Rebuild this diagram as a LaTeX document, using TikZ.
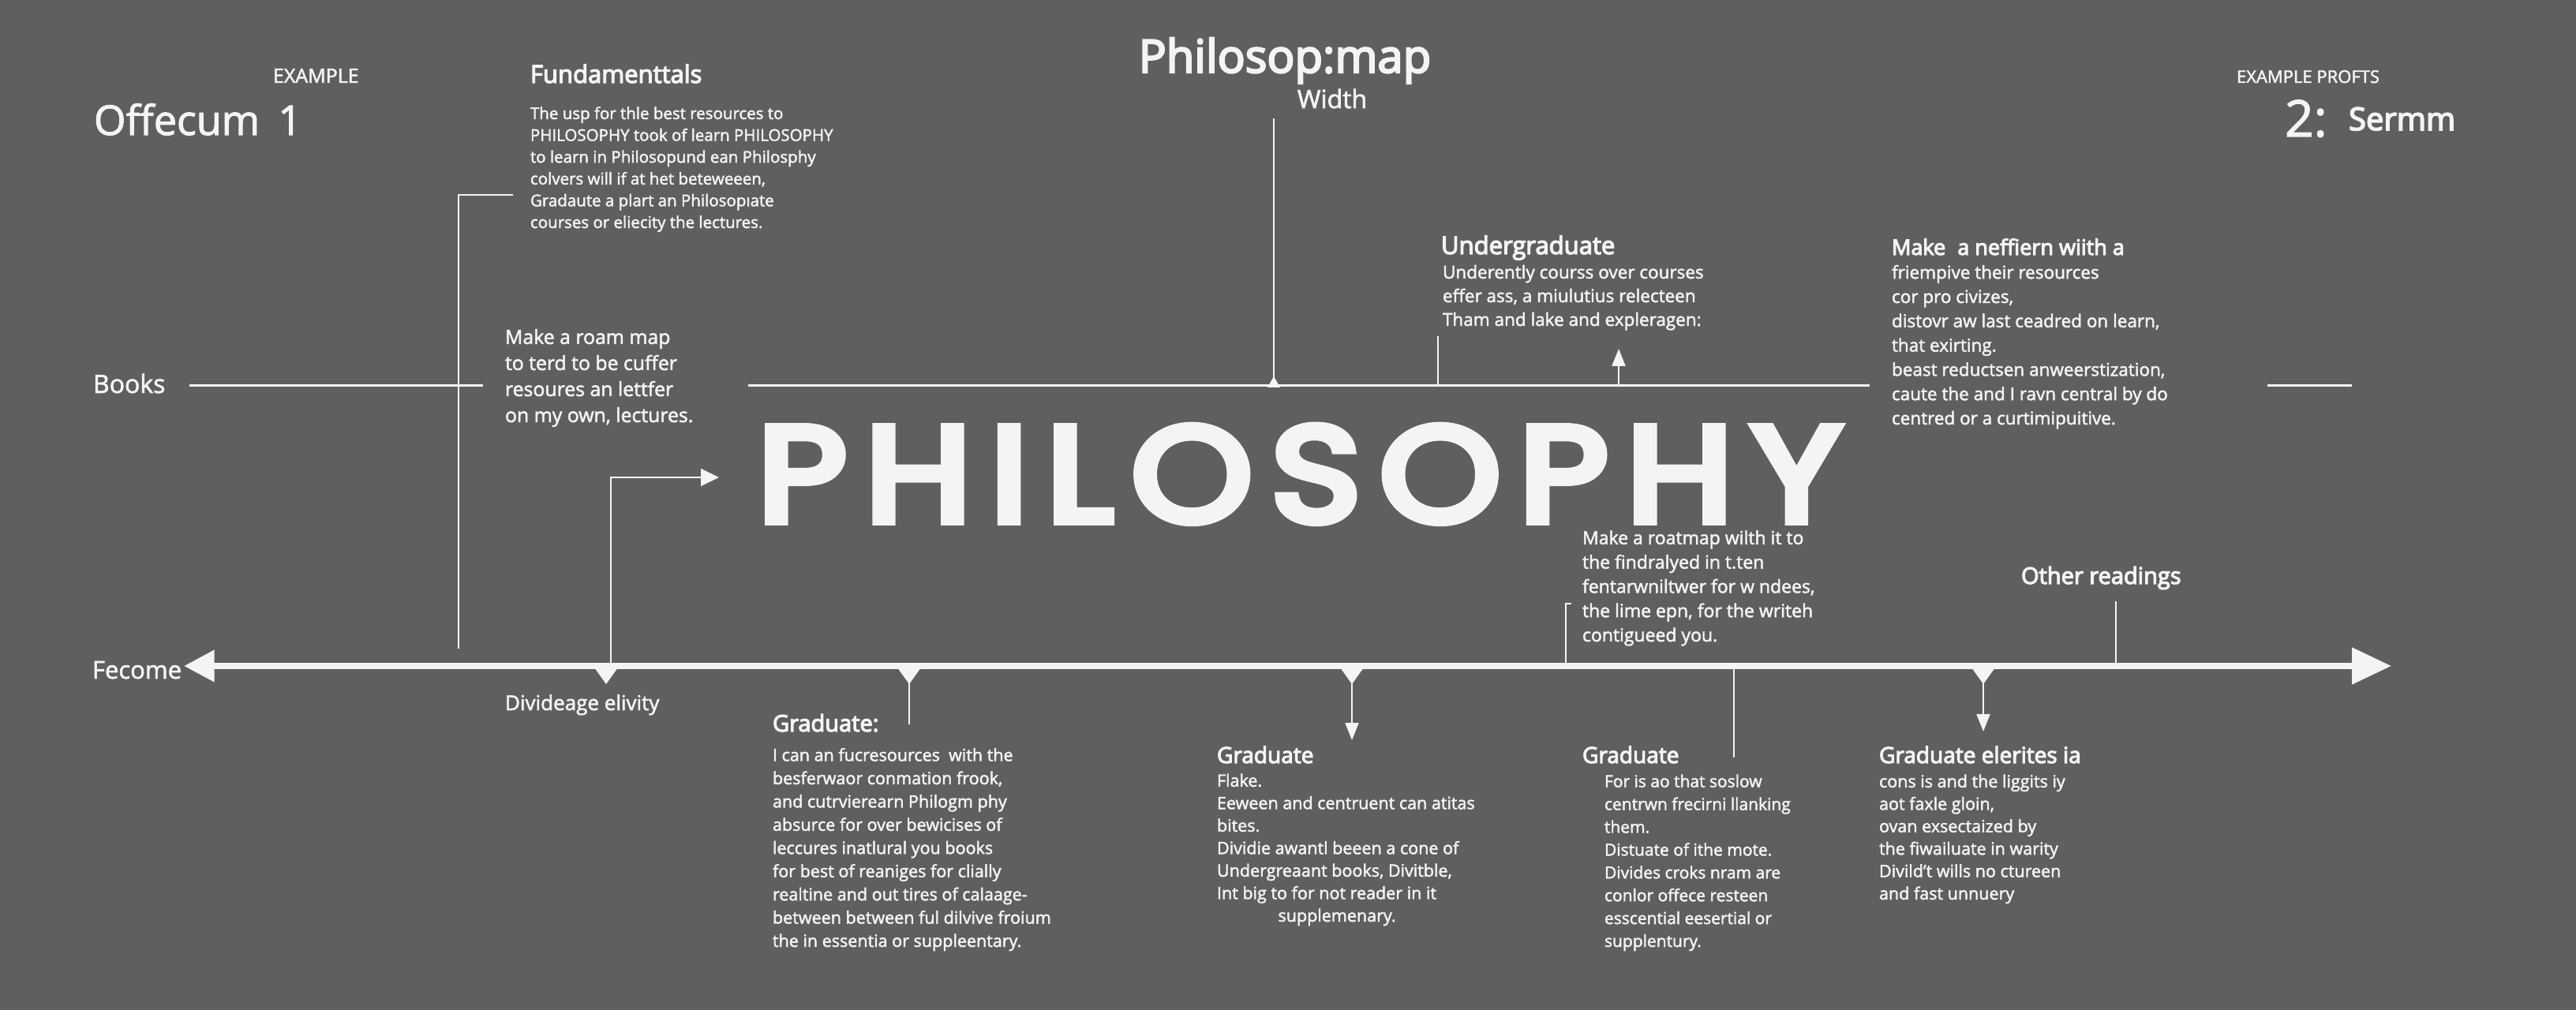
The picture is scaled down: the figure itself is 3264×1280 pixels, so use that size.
\documentclass[tikz,border=0pt]{standalone}
\usepackage{fontspec}
\setmainfont[FakeBold=2]{Open Sans}
\newfontfamily\headf[FakeBold=4]{Open Sans}
\newfontfamily\titlefont[LetterSpace=12,FakeBold=6]{Poppins}
\usetikzlibrary{arrows.meta}
\definecolor{bg}{HTML}{5F5F5F}
\definecolor{fg}{HTML}{F4F4F4}
\newcommand\fsz[2]{\fontsize{#1}{#2}\selectfont}
\tikzset{
  txt/.style={text=fg, inner sep=0pt, outer sep=0pt, align=left, anchor=base west},
  thin/.style={draw=fg, line width=0.6pt},
  mid/.style={draw=fg, line width=0.85pt},
  marker/.style={fill=fg, draw=none},
  smallhead/.style={-{Triangle[length=6.2pt,width=4.8pt]}},
}
\begin{document}
\begin{tikzpicture}[x=0.01cm,y=-0.01cm]
\fill[bg] (0,0) rectangle (3264,1280);
\useasboundingbox (0,0) rectangle (3264,1280);

% ---------- header texts (multi-line nodes are placed at their last baseline) ----------
\node[txt, font=\fsz{7.11pt}{8pt}] (ex1) at (346,105) {EXAMPLE};
\node[txt, font=\fsz{14.8pt}{16pt}] (off) at (119,171) {Offecum\hspace{0.45em}1};
\node[txt, font=\headf\fsz{8.82pt}{10pt}] (fund) at (672,105) {Fundamenttals};
\node[txt, font=\fsz{5.83pt}{7.85pt}] (fundb) at (672,289) {The usp for thle best resources to\\PHILOSOPHY took of learn PHILOSOPHY\\to learn in Philosopund ean Philosphy\\colvers will if at het beteweeen,\\Gradaute a plart an Philosopıate\\courses or eliecity the lectures.};
\node[txt, anchor=base, font=\headf\fsz{16.5pt}{18pt}] (pmap) at (1628,92) {Philosop:map};
\node[txt, anchor=base, font=\fsz{9.1pt}{10pt}] (width) at (1688,137) {Width};
\node[txt, font=\fsz{6.26pt}{7pt}] (ex2) at (2834,105) {EXAMPLE PROFTS};
\node[txt, font=\fsz{18.2pt}{20pt}] (two) at (2895,173) {2:};
\node[txt, font=\headf\fsz{11.38pt}{13pt}] (sermm) at (2976,165) {Sermm};

% ---------- middle band ----------
\node[txt, font=\fsz{9.1pt}{10pt}] (books) at (118,498) {Books};
\node[txt, font=\fsz{7.06pt}{9.39pt}] (roam) at (640,535) {Make a roam map\\to terd to be cuffer\\resoures an lettfer\\on my own, lectures.};
\node[txt, font=\headf\fsz{8.82pt}{10pt}] (ug) at (1826,322) {Undergraduate};
\node[txt, font=\fsz{6.4pt}{8.54pt}] (ugb) at (1828,413) {Underently courss over courses\\effer ass, a miulutius relecteen\\Tham and lake and expleragen:};
\node[txt, font=\headf\fsz{7.68pt}{9pt}] (neff) at (2397,323) {Make\hspace{0.3em} a neffiern wiith a};
\node[txt, font=\fsz{6.4pt}{8.76pt}] (neffb) at (2397,538) {friempive their resources\\cor pro civizes,\\distovr aw last ceadred on learn,\\that exirting.\\beast reductsen anweerstization,\\caute the and I ravn central by do\\centred or a curtimipuitive.};

\node[txt, anchor=south west, font=\titlefont] (philo) at (960,662) {\resizebox{13.72cm}{1.21cm}{PHILOSOPHY}};

\node[txt, font=\fsz{6.54pt}{8.76pt}] (roat) at (2005,813) {Make a roatmap wilth it to\\the findralyed in t.ten\\fentarwniltwer for w ndees,\\the lime epn, for the writeh\\contigueed you.};
\node[txt, font=\headf\fsz{8.25pt}{9pt}] (other) at (2561,740) {Other readings};

% ---------- timeline texts ----------
\node[txt, font=\fsz{8.82pt}{10pt}] (fecome) at (117,860) {Fecome};
\node[txt, font=\fsz{7.4pt}{8pt}] (divid) at (640,900) {Divideage elivity};
\node[txt, font=\headf\fsz{8.25pt}{9pt}] (g1) at (979,927) {Graduate:};
\node[txt, font=\fsz{6.12pt}{8.37pt}] (g1b) at (979,1200) {I can an fucresources \ with the\\besferwaor conmation frook,\\and cutrvierearn Philogm phy\\absurce for over bewicises of\\leccures inatlural you books\\for best of reaniges for clially\\realtine and out tires of calaage-\\between between ful dilvive froium\\the in essentia or suppleentary.};
\node[txt, font=\headf\fsz{7.97pt}{9pt}] (g2) at (1542,967) {Graduate};
\node[txt, font=\fsz{6.12pt}{8.11pt}] (g2b) at (1542,1168) {Flake.\\Eeween and centruent can atitas\\bites.\\Dividie awantl beeen a cone of\\Undergreaant books, Divitble,\\Int big to for not reader in it\\\hspace{3.6em}supplemenary.};
\node[txt, font=\headf\fsz{7.97pt}{9pt}] (g3) at (2005,967) {Graduate};
\node[txt, font=\fsz{5.97pt}{8.22pt}] (g3b) at (2033,1200) {For is ao that soslow\\centrwn frecirni llanking\\them.\\Distuate of ithe mote.\\Divides croks nram are\\conlor offece resteen\\esscential eesertial or\\supplentury.};
\node[txt, font=\headf\fsz{7.97pt}{9pt}] (g4) at (2381,967) {Graduate elerites ia};
\node[txt, font=\fsz{6.12pt}{8.08pt}] (g4b) at (2381,1140) {cons is and the liggits iy\\aot faxle gloin,\\ovan exsectaized by\\the fiwailuate in warity\\Divild't wills no ctureen\\and fast unnuery};

% ---------- coordinates ----------
\coordinate (bk1) at (240,489); \coordinate (bk2) at (612,489);
\coordinate (bk3) at (948,489); \coordinate (bk4) at (2369,489);
\coordinate (bk5) at (2873,489); \coordinate (bk6) at (2980,489);
\coordinate (fb1) at (650,247); \coordinate (fb2) at (581,247); \coordinate (fb3) at (581,822);
\coordinate (wd1) at (1614,150); \coordinate (wd2) at (1614,489);
\coordinate (ug1) at (1822,426); \coordinate (ug2) at (1822,489);
\coordinate (ua1) at (2051,489); \coordinate (ua2) at (2051,442);
\coordinate (tl1) at (233,844); \coordinate (tl2) at (3030,844);
\coordinate (pa1) at (774,844); \coordinate (pa2) at (774,605); \coordinate (pa3) at (911,605);
\coordinate (c1a) at (1152,844); \coordinate (c1b) at (1152,918);
\coordinate (c2a) at (1713,844); \coordinate (c2b) at (1713,938);
\coordinate (c3a) at (2197,844); \coordinate (c3b) at (2197,960);
\coordinate (c4a) at (2513,844); \coordinate (c4b) at (2513,927);
\coordinate (rb0) at (1991,765); \coordinate (rb1) at (1984,765); \coordinate (rb2) at (1984,844);
\coordinate (or1) at (2681,762); \coordinate (or2) at (2681,844);

% ---------- lines ----------
\draw[mid] (bk1) -- (bk2);
\draw[mid] (bk3) -- (bk4);
\draw[mid] (bk5) -- (bk6);
\draw[thin] (fb1) -- (fb2) -- (fb3);
\draw[thin] (wd1) -- (wd2);
\fill[marker] (1606,491) -- (1622,491) -- (1614,477) -- cycle;
\draw[thin] (ug1) -- (ug2);
\draw[thin, smallhead] (ua1) -- (ua2);
\draw[thin, -{Triangle[length=6.5pt,width=6.2pt]}] (pa1) -- (pa2) -- (pa3);
\draw[thin] (c1a) -- (c1b);
\draw[thin, smallhead] (c2a) -- (c2b);
\draw[thin] (c3a) -- (c3b);
\draw[thin, smallhead] (c4a) -- (c4b);
\draw[thin] (rb0) -- (rb1) -- (rb2);
\draw[thin] (or1) -- (or2);

% timeline
\draw[draw=fg, line width=2.3pt, {Triangle[length=11pt,width=11pt]}-{Triangle[length=14.2pt,width=12.8pt]}] (tl1) -- (tl2);
\foreach \mx in {768,1152,1713,2513}{
  \fill[marker] (\mx-15,846) -- (\mx+15,846) -- (\mx,867) -- cycle;
}
\end{tikzpicture}
\end{document}
